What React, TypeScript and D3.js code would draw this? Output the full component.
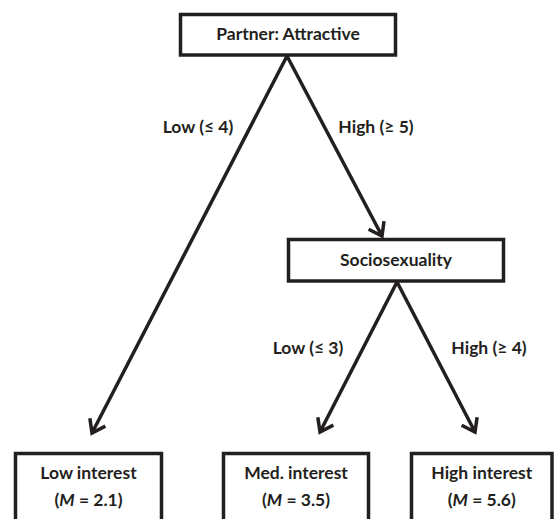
import React from "react";
import * as d3 from "d3";

// Data
const nodeLabels = ["Partner: Attractive", "Sociosexuality"];
const leafTitles = ["Low interest", "Med. interest", "High interest"];
const leafMeans = [2.1, 3.5, 5.6];
const edgeLabels = ["Low (\u2264 4)", "High (\u2265 5)", "Low (\u2264 3)", "High (\u2265 4)"];

// Layout
const W = 555, H = 519;
const nodeBoxes = [
  { x0: 180.5, x1: 395.5, y0: 14.5, y1: 55 },
  { x0: 288.5, x1: 503.5, y0: 239.5, y1: 281 },
];
const leafBoxes = [
  { x0: 15.5, x1: 161.5, y0: 453.5, y1: 540 },
  { x0: 223.5, x1: 368.5, y0: 453.5, y1: 540 },
  { x0: 411.5, x1: 552, y0: 453.5, y1: 540 },
];
const edges = [
  { from: [287, 56], to: [92, 433], label: [198, 129] },
  { from: [287, 56], to: [382, 236], label: [376, 129] },
  { from: [397, 282], to: [320, 432], label: [308, 350] },
  { from: [397, 282], to: [475, 432], label: [489, 350] },
];

const FONT = "Lato, 'Open Sans', sans-serif";
const FS = 17.5;

function arrowPath(from: number[], to: number[]) {
  const line = d3.line();
  const ang = Math.atan2(to[1] - from[1], to[0] - from[0]);
  const L = 15, a = 0.62;
  const p1: [number, number] = [to[0] - L * Math.cos(ang - a), to[1] - L * Math.sin(ang - a)];
  const p2: [number, number] = [to[0] - L * Math.cos(ang + a), to[1] - L * Math.sin(ang + a)];
  return (
    (line([from as [number, number], to as [number, number]]) || "") +
    (line([p1, to as [number, number], p2]) || "")
  );
}

export default function App() {
  return (
    <svg width={W} height={H} style={{ position: "absolute", left: 0, top: 0, background: "#fff" }}>
      {edges.map((e, i) => (
        <g key={i}>
          <path d={arrowPath(e.from, e.to)} fill="none" stroke="#231f20" strokeWidth={3.5} strokeLinejoin="miter" />
          <text x={e.label[0]} y={e.label[1]} textAnchor="middle" dominantBaseline="middle"
            fontFamily={FONT} fontWeight="bold" fontSize={FS} fill="#231f20">{edgeLabels[i]}</text>
        </g>
      ))}
      {nodeBoxes.map((b, i) => (
        <g key={i}>
          <rect x={b.x0} y={b.y0} width={b.x1 - b.x0} height={b.y1 - b.y0} fill="#fff" stroke="#231f20" strokeWidth={3.5} />
          <text x={(b.x0 + b.x1) / 2} y={(b.y0 + b.y1) / 2 + 1} textAnchor="middle" dominantBaseline="middle"
            fontFamily={FONT} fontWeight="bold" fontSize={FS} fill="#231f20">{nodeLabels[i]}</text>
        </g>
      ))}
      {leafBoxes.map((b, i) => (
        <g key={i}>
          <rect x={b.x0} y={b.y0} width={b.x1 - b.x0} height={b.y1 - b.y0} fill="#fff" stroke="#231f20" strokeWidth={3.5} />
          <text x={(b.x0 + b.x1) / 2} y={475} textAnchor="middle" dominantBaseline="middle"
            fontFamily={FONT} fontWeight="bold" fontSize={FS} fill="#231f20">{leafTitles[i]}</text>
          <text x={(b.x0 + b.x1) / 2} y={502} textAnchor="middle" dominantBaseline="middle"
            fontFamily={FONT} fontWeight="bold" fontSize={FS} fill="#231f20">
            (<tspan fontStyle="italic">M</tspan> = {d3.format(".1f")(leafMeans[i])})
          </text>
        </g>
      ))}
    </svg>
  );
}
